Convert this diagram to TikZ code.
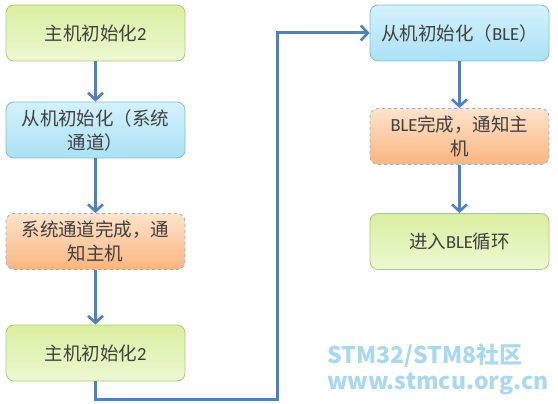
\documentclass[tikz,border=0pt]{standalone}
\usepackage{fontspec}
\setmainfont{Carlito}
\newfontfamily\cjk{Noto Sans CJK SC}
\usetikzlibrary{arrows.meta}
\definecolor{gtop}{HTML}{D9EFA0}
\definecolor{gbot}{HTML}{EDF9D2}
\definecolor{gbor}{HTML}{AECB72}
\definecolor{btop}{HTML}{D3F2FC}
\definecolor{bbot}{HTML}{ABE1F5}
\definecolor{bbor}{HTML}{80BFD8}
\definecolor{otop}{HTML}{FDE3CC}
\definecolor{obot}{HTML}{FAB57F}
\definecolor{obor}{HTML}{95B0D0}
\definecolor{arr}{HTML}{4F81BD}
\definecolor{txt}{HTML}{404040}
\definecolor{wmark}{HTML}{A9D8F0}
\tikzset{
  box/.style={rounded corners=8pt, minimum width=179pt, text width=170pt, align=center,
    text=txt, font=\fontsize{18.5}{24}\selectfont\cjk, inner sep=0pt, line width=0.8pt},
  gbox/.style={box, draw=gbor, top color=gtop, bottom color=gbot, minimum height=56pt},
  bbox/.style={box, draw=bbor, top color=btop, bottom color=bbot, minimum height=56pt},
  obox/.style={box, draw=obor, dashed, top color=otop, bottom color=obot, minimum height=56pt},
  conn/.style={draw=arr, line width=3pt, -{Straight Barb[length=7pt,width=15pt,line width=2.6pt]}},
}
\begin{document}
\begin{tikzpicture}[x=1pt,y=-1pt]
\useasboundingbox (0,0) rectangle (558,404);
\node[gbox] (b1) at (95.5,33) {主机初始化{\rmfamily 2}};
\node[bbox] (b2) at (95.5,130) {从机初始化（系统\\通道）};
\node[obox] (b3) at (95.5,241.5) {系统通道完成，通\\知主机};
\node[gbox] (b4) at (95.5,353) {主机初始化{\rmfamily 2}};
\node[bbox] (b5) at (459.5,33) {从机初始化（{\rmfamily BLE}）};
\node[obox] (b6) at (459.5,136.5) {{\rmfamily BLE}完成，通知主\\机};
\node[gbox] (b7) at (459.5,241.5) {进入{\rmfamily BLE}循环};
\coordinate (turn) at (277,399);
\draw[conn] (b1) -- (b2);
\draw[conn] (b2) -- (b3);
\draw[conn] (b3) -- (b4);
\draw[conn] (b4.south) |- (turn) |- (b5.west);
\draw[conn] (b5) -- (b6);
\draw[conn] (b6) -- (b7);
\node[anchor=west, text=wmark, font=\fontsize{23}{26}\selectfont\cjk\bfseries, inner sep=0pt] (wm1) at (327,356) {STM32/STM8社区};
\node[anchor=west, text=wmark, font=\fontsize{23}{26}\selectfont\cjk\bfseries, inner sep=0pt] (wm2) at (327,384) {www.stmcu.org.cn};
\end{tikzpicture}
\end{document}
